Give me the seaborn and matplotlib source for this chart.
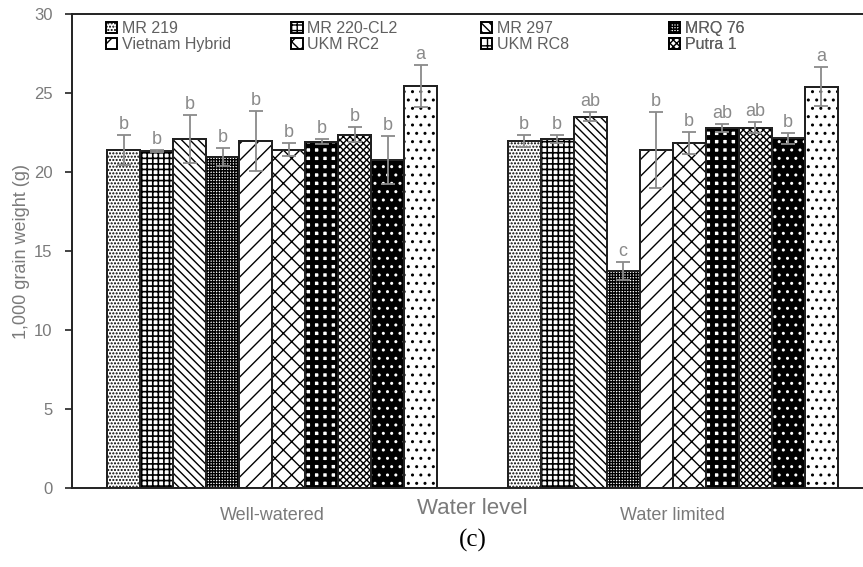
"""
1,000 grain weight of rice varieties under two water levels, panel (c).

Writes out.png in the current folder.
"""

import matplotlib.pyplot as plt
import matplotlib.transforms as mtransforms
from matplotlib.patches import Rectangle
import pandas as pd
import seaborn as sns

LEVELS = ["Well-watered", "Water limited"]
VARIETIES = [
    "MR 219", "MR 220-CL2", "MR 297", "MRQ 76", "Vietnam Hybrid",
    "UKM RC2", "UKM RC8", "Putra 1", "Variety 9", "Variety 10",
]
N_LEGEND = 8  # only the first eight varieties appear in the legend

WW_MEAN = [21.39, 21.33, 22.09, 20.93, 21.98, 21.41, 21.92, 22.36, 20.76, 25.46]
WW_ERR = [0.95, 0.05, 1.50, 0.57, 1.90, 0.40, 0.17, 0.47, 1.52, 1.33]
WL_MEAN = [21.96, 22.09, 23.50, 13.73, 21.39, 21.84, 22.76, 22.80, 22.13, 25.40]
WL_ERR = [0.38, 0.25, 0.28, 0.55, 2.39, 0.70, 0.25, 0.36, 0.36, 1.25]
WW_LETTERS = ["b", "b", "b", "b", "b", "b", "b", "b", "b", "a"]
WL_LETTERS = ["b", "b", "ab", "c", "b", "b", "ab", "ab", "b", "a"]

# hatch, hatch linewidth, face colour, hatch colour
STYLES = [
    (".....", 1.0, "white", "black"),
    ("+++", 1.2, "white", "black"),
    ("\\\\\\\\", 1.0, "white", "black"),
    ("++++++", 1.0, "white", "black"),
    ("//", 1.0, "white", "black"),
    ("xx", 1.0, "white", "black"),
    ("++", 3.5, "white", "black"),
    ("xxxxx", 1.0, "white", "black"),
    ("..", 1.0, "black", "white"),
    ("..", 1.0, "white", "black"),
]

GREY = "#8a8a8a"
TEXT_GREY = "#7a7a7a"
EDGE = "#222222"

sns.set_style("white")
plt.rcParams["font.family"] = ["Liberation Sans", "DejaVu Sans"]

rows = []
for lvl, means in zip(LEVELS, [WW_MEAN, WL_MEAN]):
    for var, m in zip(VARIETIES, means):
        rows.append({"level": lvl, "variety": var, "weight": m})
df = pd.DataFrame(rows)

errs = {0: WW_ERR, 1: WL_ERR}
letters = {0: WW_LETTERS, 1: WL_LETTERS}

fig = plt.figure(figsize=(8.63, 5.67), dpi=100)
ax = fig.add_axes([0.0834, 0.1393, 0.928, 0.836])

sns.barplot(
    data=df, x="level", y="weight", hue="variety",
    order=LEVELS, hue_order=VARIETIES,
    palette=["white"] * len(VARIETIES), saturation=1,
    width=0.824, gap=0, errorbar=None, legend=False,
    edgecolor=EDGE, linewidth=1.4, ax=ax,
)

bar_containers = list(ax.containers)
legend_handles = []
for i, cont in enumerate(bar_containers):
    hatch, hlw, face, hcol = STYLES[i]
    for patch in cont:
        patch.set_facecolor(face)
        patch.set_hatch(hatch)
        patch.set_edgecolor(hcol)
        if hasattr(patch, "set_hatch_linewidth"):
            patch.set_hatch_linewidth(hlw)
        # outline drawn on top so the hatch colour can differ from the edge
        ax.add_patch(Rectangle((patch.get_x(), 0), patch.get_width(), patch.get_height(),
                               fill=False, edgecolor=EDGE, linewidth=1.4, zorder=patch.get_zorder() + 0.1))
        cx = patch.get_x() + patch.get_width() / 2
        j = int(round(cx))
        h = patch.get_height()
        e = errs[j][i]
        ax.errorbar(cx, h, yerr=e, fmt="none", ecolor=GREY, elinewidth=1.3,
                    capsize=5, capthick=1.3, zorder=5)
        ax.annotate(letters[j][i], (cx, h + e), xytext=(0, 1.5), textcoords="offset points",
                    ha="center", va="bottom", color=GREY, fontsize=13)
    legend_handles.append(cont[0])

ax.set_xlim(-0.5, 1.5)
ax.set_ylim(0, 30)
ax.set_yticks(range(0, 31, 5))

for side in ["left", "bottom", "top"]:
    ax.spines[side].set_color(EDGE)
    ax.spines[side].set_linewidth(1.4)
ax.spines["right"].set_visible(False)

ax.tick_params(axis="y", left=True, length=5, width=1.2, color=EDGE,
               pad=9, labelsize=12, labelcolor=TEXT_GREY)
ax.tick_params(axis="x", length=0, pad=14, labelsize=13, labelcolor=TEXT_GREY)

ax.set_ylabel("1,000 grain weight (g)", fontsize=13, color=TEXT_GREY)
ax.yaxis.set_label_coords(-0.052, 0.5)
ax.set_xlabel("Water level", fontsize=16, color=TEXT_GREY)
blend = mtransforms.blended_transform_factory(ax.transData, ax.transAxes)
ax.xaxis.set_label_coords(0.5, -0.022, transform=blend)

# legend: four columns of two rows, evenly spaced like the original
col_x = [0.034, 0.266, 0.503, 0.737]
for c in range(4):
    idx = [c, c + 4]
    leg = ax.legend(
        [legend_handles[k] for k in idx], [VARIETIES[k] for k in idx],
        loc="upper left", bbox_to_anchor=(col_x[c], 0.998), frameon=False,
        fontsize=11.5, handlelength=0.7, handleheight=0.7, handletextpad=0.3,
        labelspacing=0.05, borderaxespad=0, labelcolor="#606060",
    )
    ax.add_artist(leg)

fig.text(0.548, 0.046, "(c)", ha="center", va="center", fontsize=18,
         family=["Liberation Serif", "DejaVu Serif"], color="black")

fig.savefig("out.png", dpi=100, facecolor="white")
